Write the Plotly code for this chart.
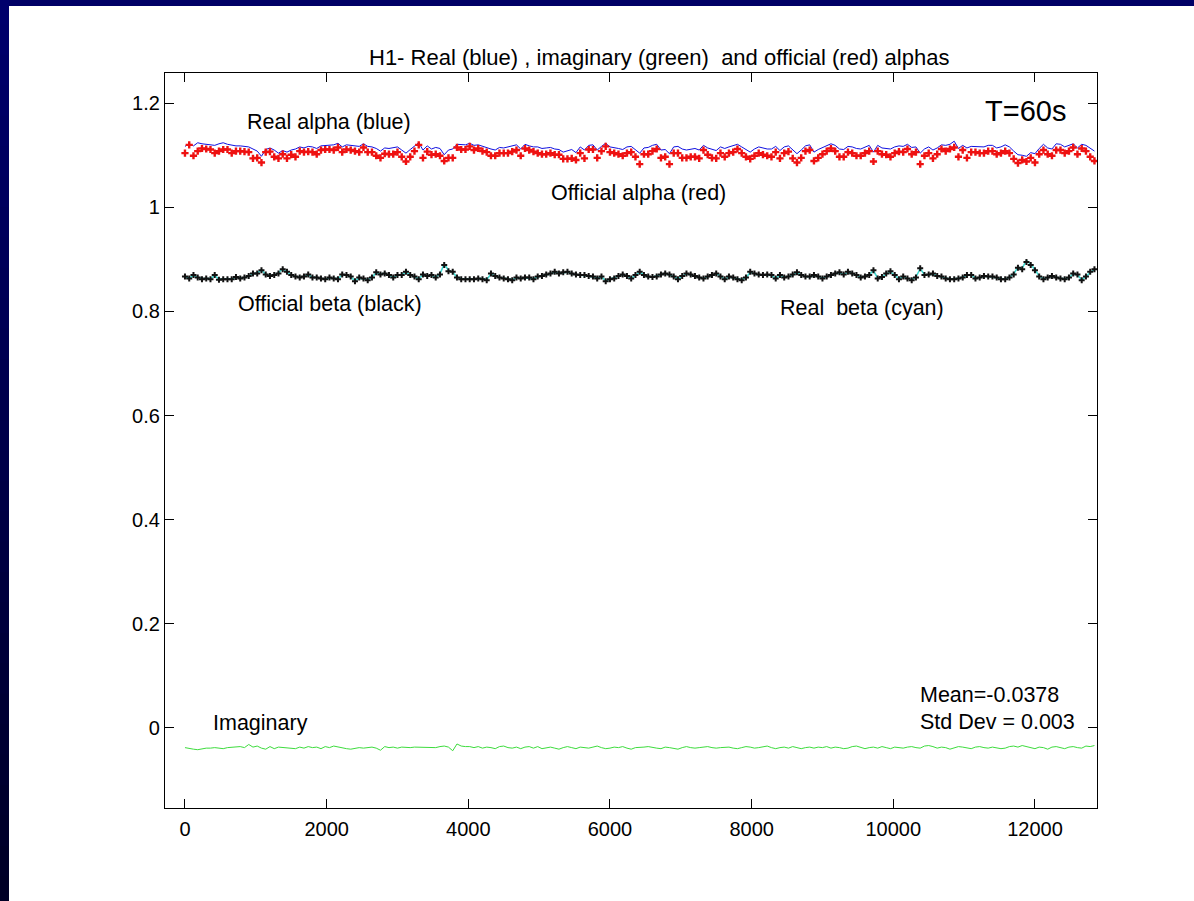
import plotly.graph_objects as go

# ---------------- data ----------------
step_seconds = 60
n_points = 215
times = [i * step_seconds for i in range(n_points)]

real_alpha = [
    1.117, 1.122, 1.118, 1.124, 1.122, 1.121, 1.120, 1.119, 1.122, 1.124,
    1.121, 1.119, 1.118, 1.118, 1.117, 1.116, 1.112, 1.108, 1.098, 1.111,
    1.114, 1.110, 1.104, 1.109, 1.106, 1.110, 1.112, 1.116, 1.114, 1.117,
    1.116, 1.113, 1.118, 1.119, 1.120, 1.120, 1.123, 1.116, 1.120, 1.119,
    1.118, 1.117, 1.122, 1.117, 1.116, 1.113, 1.108, 1.114, 1.113, 1.114,
    1.116, 1.110, 1.104, 1.111, 1.117, 1.124, 1.110, 1.118, 1.112, 1.115,
    1.113, 1.101, 1.110, 1.112, 1.121, 1.120, 1.120, 1.123, 1.119, 1.120,
    1.117, 1.115, 1.112, 1.110, 1.115, 1.114, 1.116, 1.118, 1.120, 1.112,
    1.121, 1.118, 1.116, 1.116, 1.113, 1.114, 1.115, 1.112, 1.111, 1.106,
    1.108, 1.111, 1.105, 1.116, 1.110, 1.119, 1.120, 1.110, 1.117, 1.123,
    1.116, 1.115, 1.113, 1.111, 1.116, 1.117, 1.110, 1.104, 1.114, 1.115,
    1.119, 1.121, 1.110, 1.111, 1.103, 1.116, 1.117, 1.112, 1.110, 1.112,
    1.113, 1.110, 1.119, 1.114, 1.111, 1.109, 1.116, 1.113, 1.116, 1.118,
    1.121, 1.116, 1.111, 1.106, 1.112, 1.116, 1.114, 1.112, 1.112, 1.117,
    1.109, 1.116, 1.118, 1.110, 1.103, 1.110, 1.118, 1.120, 1.106, 1.111,
    1.115, 1.119, 1.122, 1.119, 1.112, 1.111, 1.117, 1.116, 1.113, 1.112,
    1.116, 1.119, 1.106, 1.119, 1.114, 1.113, 1.112, 1.116, 1.118, 1.117,
    1.121, 1.115, 1.116, 1.104, 1.112, 1.116, 1.110, 1.114, 1.120, 1.119,
    1.121, 1.127, 1.113, 1.119, 1.114, 1.117, 1.117, 1.116, 1.116, 1.119,
    1.119, 1.114, 1.116, 1.120, 1.116, 1.108, 1.101, 1.100, 1.098, 1.105,
    1.103, 1.113, 1.121, 1.114, 1.112, 1.122, 1.121, 1.116, 1.119, 1.122,
    1.114, 1.121, 1.119, 1.113, 1.108,
]

official_alpha = [
    1.104, 1.120, 1.099, 1.108, 1.113, 1.112, 1.111, 1.104, 1.108, 1.111,
    1.111, 1.104, 1.108, 1.108, 1.107, 1.106, 1.094, 1.095, 1.086, 1.106,
    1.107, 1.097, 1.094, 1.102, 1.094, 1.101, 1.097, 1.108, 1.106, 1.107,
    1.106, 1.102, 1.110, 1.111, 1.111, 1.110, 1.115, 1.106, 1.111, 1.110,
    1.108, 1.106, 1.115, 1.106, 1.106, 1.099, 1.095, 1.103, 1.102, 1.102,
    1.106, 1.097, 1.088, 1.097, 1.108, 1.120, 1.095, 1.107, 1.101, 1.102,
    1.099, 1.089, 1.095, 1.095, 1.115, 1.111, 1.111, 1.117, 1.110, 1.113,
    1.108, 1.106, 1.099, 1.099, 1.104, 1.104, 1.104, 1.107, 1.110, 1.099,
    1.113, 1.110, 1.107, 1.104, 1.102, 1.102, 1.104, 1.101, 1.101, 1.093,
    1.093, 1.094, 1.091, 1.104, 1.094, 1.111, 1.111, 1.095, 1.108, 1.117,
    1.106, 1.104, 1.102, 1.099, 1.104, 1.106, 1.097, 1.083, 1.102, 1.102,
    1.108, 1.112, 1.095, 1.097, 1.083, 1.104, 1.104, 1.095, 1.095, 1.097,
    1.097, 1.094, 1.110, 1.101, 1.095, 1.094, 1.104, 1.097, 1.104, 1.106,
    1.112, 1.104, 1.097, 1.093, 1.099, 1.104, 1.101, 1.099, 1.097, 1.106,
    1.094, 1.104, 1.107, 1.094, 1.086, 1.095, 1.108, 1.110, 1.089, 1.095,
    1.102, 1.108, 1.113, 1.108, 1.097, 1.097, 1.106, 1.104, 1.099, 1.099,
    1.104, 1.108, 1.088, 1.108, 1.102, 1.101, 1.097, 1.104, 1.107, 1.106,
    1.112, 1.102, 1.106, 1.083, 1.099, 1.104, 1.094, 1.102, 1.112, 1.108,
    1.112, 1.115, 1.097, 1.110, 1.095, 1.106, 1.106, 1.104, 1.104, 1.108,
    1.108, 1.102, 1.104, 1.108, 1.104, 1.093, 1.085, 1.091, 1.088, 1.095,
    1.086, 1.102, 1.110, 1.102, 1.099, 1.110, 1.110, 1.104, 1.108, 1.115,
    1.102, 1.113, 1.108, 1.097, 1.089,
]

official_beta = [
    0.867, 0.863, 0.870, 0.865, 0.862, 0.863, 0.862, 0.870, 0.861, 0.862,
    0.862, 0.862, 0.866, 0.863, 0.865, 0.868, 0.873, 0.873, 0.879, 0.871,
    0.868, 0.870, 0.873, 0.881, 0.876, 0.870, 0.867, 0.865, 0.867, 0.871,
    0.865, 0.865, 0.863, 0.862, 0.865, 0.863, 0.862, 0.871, 0.870, 0.867,
    0.858, 0.865, 0.863, 0.860, 0.865, 0.875, 0.871, 0.873, 0.870, 0.865,
    0.870, 0.870, 0.876, 0.870, 0.867, 0.862, 0.871, 0.868, 0.870, 0.865,
    0.871, 0.889, 0.877, 0.876, 0.865, 0.862, 0.862, 0.862, 0.862, 0.863,
    0.862, 0.860, 0.873, 0.868, 0.865, 0.863, 0.862, 0.860, 0.865, 0.863,
    0.865, 0.865, 0.862, 0.867, 0.868, 0.871, 0.873, 0.876, 0.873, 0.875,
    0.876, 0.873, 0.871, 0.870, 0.870, 0.868, 0.867, 0.863, 0.867, 0.858,
    0.862, 0.863, 0.868, 0.871, 0.868, 0.863, 0.870, 0.876, 0.870, 0.867,
    0.866, 0.867, 0.871, 0.873, 0.871, 0.867, 0.862, 0.868, 0.873, 0.871,
    0.868, 0.865, 0.863, 0.867, 0.870, 0.873, 0.867, 0.862, 0.867, 0.865,
    0.862, 0.860, 0.865, 0.876, 0.873, 0.871, 0.870, 0.871, 0.870, 0.863,
    0.870, 0.865, 0.867, 0.871, 0.875, 0.870, 0.867, 0.867, 0.870, 0.867,
    0.863, 0.867, 0.870, 0.873, 0.875, 0.871, 0.876, 0.873, 0.870, 0.865,
    0.867, 0.870, 0.879, 0.863, 0.866, 0.873, 0.877, 0.870, 0.862, 0.867,
    0.863, 0.860, 0.865, 0.883, 0.870, 0.871, 0.873, 0.868, 0.867, 0.863,
    0.862, 0.862, 0.863, 0.865, 0.870, 0.870, 0.863, 0.865, 0.868, 0.867,
    0.867, 0.865, 0.862, 0.862, 0.865, 0.871, 0.884, 0.881, 0.895, 0.889,
    0.879, 0.867, 0.862, 0.865, 0.868, 0.865, 0.863, 0.862, 0.865, 0.873,
    0.871, 0.860, 0.867, 0.876, 0.881,
]

real_beta = [
    0.866, 0.864, 0.869, 0.865, 0.863, 0.863, 0.863, 0.869, 0.862, 0.862,
    0.863, 0.862, 0.866, 0.864, 0.865, 0.868, 0.872, 0.874, 0.880, 0.871,
    0.869, 0.870, 0.874, 0.882, 0.876, 0.870, 0.867, 0.866, 0.867, 0.870,
    0.866, 0.865, 0.864, 0.862, 0.864, 0.864, 0.863, 0.870, 0.870, 0.866,
    0.859, 0.864, 0.863, 0.861, 0.866, 0.874, 0.872, 0.873, 0.869, 0.866,
    0.869, 0.871, 0.875, 0.870, 0.866, 0.863, 0.870, 0.869, 0.869, 0.866,
    0.872, 0.891, 0.879, 0.875, 0.866, 0.863, 0.862, 0.863, 0.862, 0.863,
    0.863, 0.861, 0.872, 0.868, 0.865, 0.864, 0.862, 0.861, 0.864, 0.864,
    0.865, 0.864, 0.863, 0.866, 0.869, 0.870, 0.873, 0.875, 0.874, 0.874,
    0.876, 0.872, 0.871, 0.870, 0.869, 0.868, 0.866, 0.864, 0.866, 0.859,
    0.862, 0.864, 0.867, 0.871, 0.868, 0.864, 0.869, 0.876, 0.870, 0.866,
    0.866, 0.868, 0.870, 0.873, 0.870, 0.867, 0.863, 0.867, 0.873, 0.870,
    0.868, 0.866, 0.863, 0.867, 0.869, 0.873, 0.868, 0.862, 0.866, 0.865,
    0.863, 0.861, 0.865, 0.875, 0.873, 0.870, 0.870, 0.870, 0.869, 0.864,
    0.869, 0.866, 0.867, 0.870, 0.874, 0.870, 0.867, 0.866, 0.869, 0.867,
    0.864, 0.867, 0.869, 0.873, 0.874, 0.871, 0.875, 0.873, 0.869, 0.866,
    0.867, 0.871, 0.878, 0.864, 0.866, 0.872, 0.876, 0.870, 0.863, 0.866,
    0.864, 0.861, 0.866, 0.882, 0.871, 0.870, 0.872, 0.868, 0.866, 0.864,
    0.862, 0.863, 0.863, 0.866, 0.869, 0.870, 0.864, 0.865, 0.867, 0.867,
    0.866, 0.865, 0.863, 0.862, 0.866, 0.872, 0.885, 0.883, 0.898, 0.891,
    0.880, 0.868, 0.863, 0.865, 0.867, 0.866, 0.863, 0.863, 0.865, 0.872,
    0.870, 0.861, 0.867, 0.875, 0.880,
]

imaginary = [
    -0.038, -0.040, -0.041, -0.042, -0.040, -0.039, -0.039, -0.038, -0.039, -0.040,
    -0.038, -0.037, -0.037, -0.036, -0.038, -0.032, -0.037, -0.035, -0.039, -0.041,
    -0.036, -0.040, -0.037, -0.038, -0.038, -0.039, -0.040, -0.037, -0.039, -0.036,
    -0.038, -0.037, -0.040, -0.036, -0.038, -0.035, -0.037, -0.039, -0.040, -0.041,
    -0.039, -0.038, -0.039, -0.038, -0.037, -0.039, -0.043, -0.036, -0.038, -0.037,
    -0.039, -0.037, -0.038, -0.038, -0.037, -0.037, -0.038, -0.037, -0.038, -0.038,
    -0.036, -0.035, -0.037, -0.044, -0.031, -0.035, -0.036, -0.036, -0.038, -0.036,
    -0.039, -0.037, -0.038, -0.040, -0.036, -0.035, -0.038, -0.039, -0.037, -0.040,
    -0.037, -0.036, -0.039, -0.036, -0.040, -0.038, -0.037, -0.039, -0.041, -0.038,
    -0.036, -0.038, -0.040, -0.037, -0.038, -0.039, -0.037, -0.035, -0.038, -0.040,
    -0.039, -0.037, -0.038, -0.036, -0.039, -0.041, -0.038, -0.038, -0.037, -0.036,
    -0.038, -0.039, -0.040, -0.037, -0.038, -0.039, -0.041, -0.038, -0.036, -0.038,
    -0.039, -0.038, -0.037, -0.036, -0.038, -0.039, -0.038, -0.038, -0.037, -0.039,
    -0.040, -0.038, -0.036, -0.037, -0.039, -0.038, -0.037, -0.035, -0.038, -0.040,
    -0.038, -0.037, -0.039, -0.036, -0.038, -0.040, -0.038, -0.037, -0.039, -0.037,
    -0.038, -0.036, -0.039, -0.037, -0.038, -0.040, -0.039, -0.036, -0.035, -0.037,
    -0.040, -0.038, -0.037, -0.039, -0.036, -0.038, -0.040, -0.037, -0.038, -0.039,
    -0.037, -0.036, -0.038, -0.039, -0.035, -0.034, -0.036, -0.039, -0.037, -0.038,
    -0.041, -0.038, -0.036, -0.037, -0.039, -0.040, -0.037, -0.036, -0.038, -0.039,
    -0.037, -0.038, -0.040, -0.039, -0.036, -0.035, -0.037, -0.034, -0.036, -0.038,
    -0.040, -0.037, -0.038, -0.041, -0.037, -0.036, -0.038, -0.040, -0.037, -0.036,
    -0.038, -0.039, -0.035, -0.036, -0.034,
]

x_tick_values = [0, 2000, 4000, 6000, 8000, 10000, 12000]
x_tick_labels = ["0", "2000", "4000", "6000", "8000", "10000", "12000"]
y_tick_values = [0, 0.2, 0.4, 0.6, 0.8, 1.0, 1.2]
y_tick_labels = ["0", "0.2", "0.4", "0.6", "0.8", "1", "1.2"]

title_text = "H1- Real (blue) , imaginary (green)  and official (red) alphas"

# ---------------- figure ----------------
FONT = "Liberation Sans, Arial, Helvetica, sans-serif"
W, H = 1194, 901
ML, MR, MT, MB = 165, 97, 73, 93
PW, PH = W - ML - MR, H - MT - MB


def px_to_paper_x(px):
    return (px - ML) / PW


def px_to_paper_y(py):
    return (H - MB - py) / PH


fig = go.Figure()

fig.add_trace(go.Scatter(x=times, y=real_alpha, mode="lines",
                         line=dict(color="#1010e0", width=1), name="Real alpha"))
fig.add_trace(go.Scatter(x=times, y=official_alpha, mode="markers",
                         marker=dict(symbol="cross", size=6, color="#ee1111",
                                     line=dict(width=0)), name="Official alpha"))
fig.add_trace(go.Scatter(x=times, y=real_beta, mode="lines",
                         line=dict(color="#40d8d0", width=1.6), name="Real beta"))
fig.add_trace(go.Scatter(x=times, y=official_beta, mode="markers",
                         marker=dict(symbol="cross", size=5, color="#111111",
                                     line=dict(width=0)), name="Official beta"))
fig.add_trace(go.Scatter(x=times, y=imaginary, mode="lines",
                         line=dict(color="#3ddc3d", width=1), name="Imaginary"))

shapes = []
# white page
shapes.append(dict(type="rect", xref="paper", yref="paper", layer="below",
                   x0=px_to_paper_x(9), x1=px_to_paper_x(W + 5),
                   y0=px_to_paper_y(H + 5), y1=px_to_paper_y(6),
                   fillcolor="white", line=dict(width=0)))
# left strip gradient (navy to near-black)
n_bands = 30
for k in range(n_bands):
    t = k / (n_bands - 1)
    b = int(round(108 - 70 * t))
    y0 = -6 + k * (H + 12) / n_bands
    y1 = -6 + (k + 1) * (H + 12) / n_bands + 1
    shapes.append(dict(type="rect", xref="paper", yref="paper", layer="below",
                       x0=px_to_paper_x(-5), x1=px_to_paper_x(9),
                       y0=px_to_paper_y(y1), y1=px_to_paper_y(y0),
                       fillcolor=f"rgb(0,0,{b})", line=dict(width=0)))
fig.update_layout(shapes=shapes)

ann_font = dict(family=FONT, size=21.5, color="black")
annotations = [
    dict(x=px_to_paper_x(659), y=px_to_paper_y(57), xref="paper", yref="paper",
         text=title_text, showarrow=False, xanchor="center", yanchor="middle",
         font=dict(family=FONT, size=22, color="black")),
    dict(x=847, y=1.164, text="Real alpha (blue)"),
    dict(x=5139, y=1.0275, text="Official alpha (red)"),
    dict(x=720, y=0.814, text="Official beta (black)"),
    dict(x=8372, y=0.806, text="Real&nbsp; beta (cyan)"),
    dict(x=11266, y=1.185, text="T=60s", font=dict(family=FONT, size=29, color="black")),
    dict(x=367, y=0.010, text="Imaginary"),
    dict(x=10349, y=0.064, text="Mean=-0.0378"),
    dict(x=10349, y=0.012, text="Std Dev = 0.003"),
]
for a in annotations[1:]:
    a.setdefault("font", ann_font)
    a.update(xref="x", yref="y", showarrow=False, xanchor="left", yanchor="middle")
fig.update_layout(annotations=annotations)

axis_common = dict(showline=True, linecolor="black", linewidth=1.2, mirror="ticks",
                   ticks="inside", ticklen=9, tickcolor="black", tickwidth=1,
                   showgrid=False, zeroline=False,
                   tickfont=dict(family=FONT, size=20, color="black"))
fig.update_xaxes(range=[-282, 12876], tickvals=x_tick_values, ticktext=x_tick_labels,
                 ticklabelstandoff=3, **axis_common)
fig.update_yaxes(range=[-0.154, 1.258], tickvals=y_tick_values, ticktext=y_tick_labels,
                 ticklabelstandoff=0, **axis_common)

fig.update_layout(width=W, height=H, margin=dict(l=ML, r=MR, t=MT, b=MB),
                  paper_bgcolor="#000066", plot_bgcolor="white",
                  showlegend=False)

fig.write_html(
    "out.html",
    config={"displayModeBar": False},
    post_script="document.body.style.margin='0';document.body.style.background='#000066';",
)
